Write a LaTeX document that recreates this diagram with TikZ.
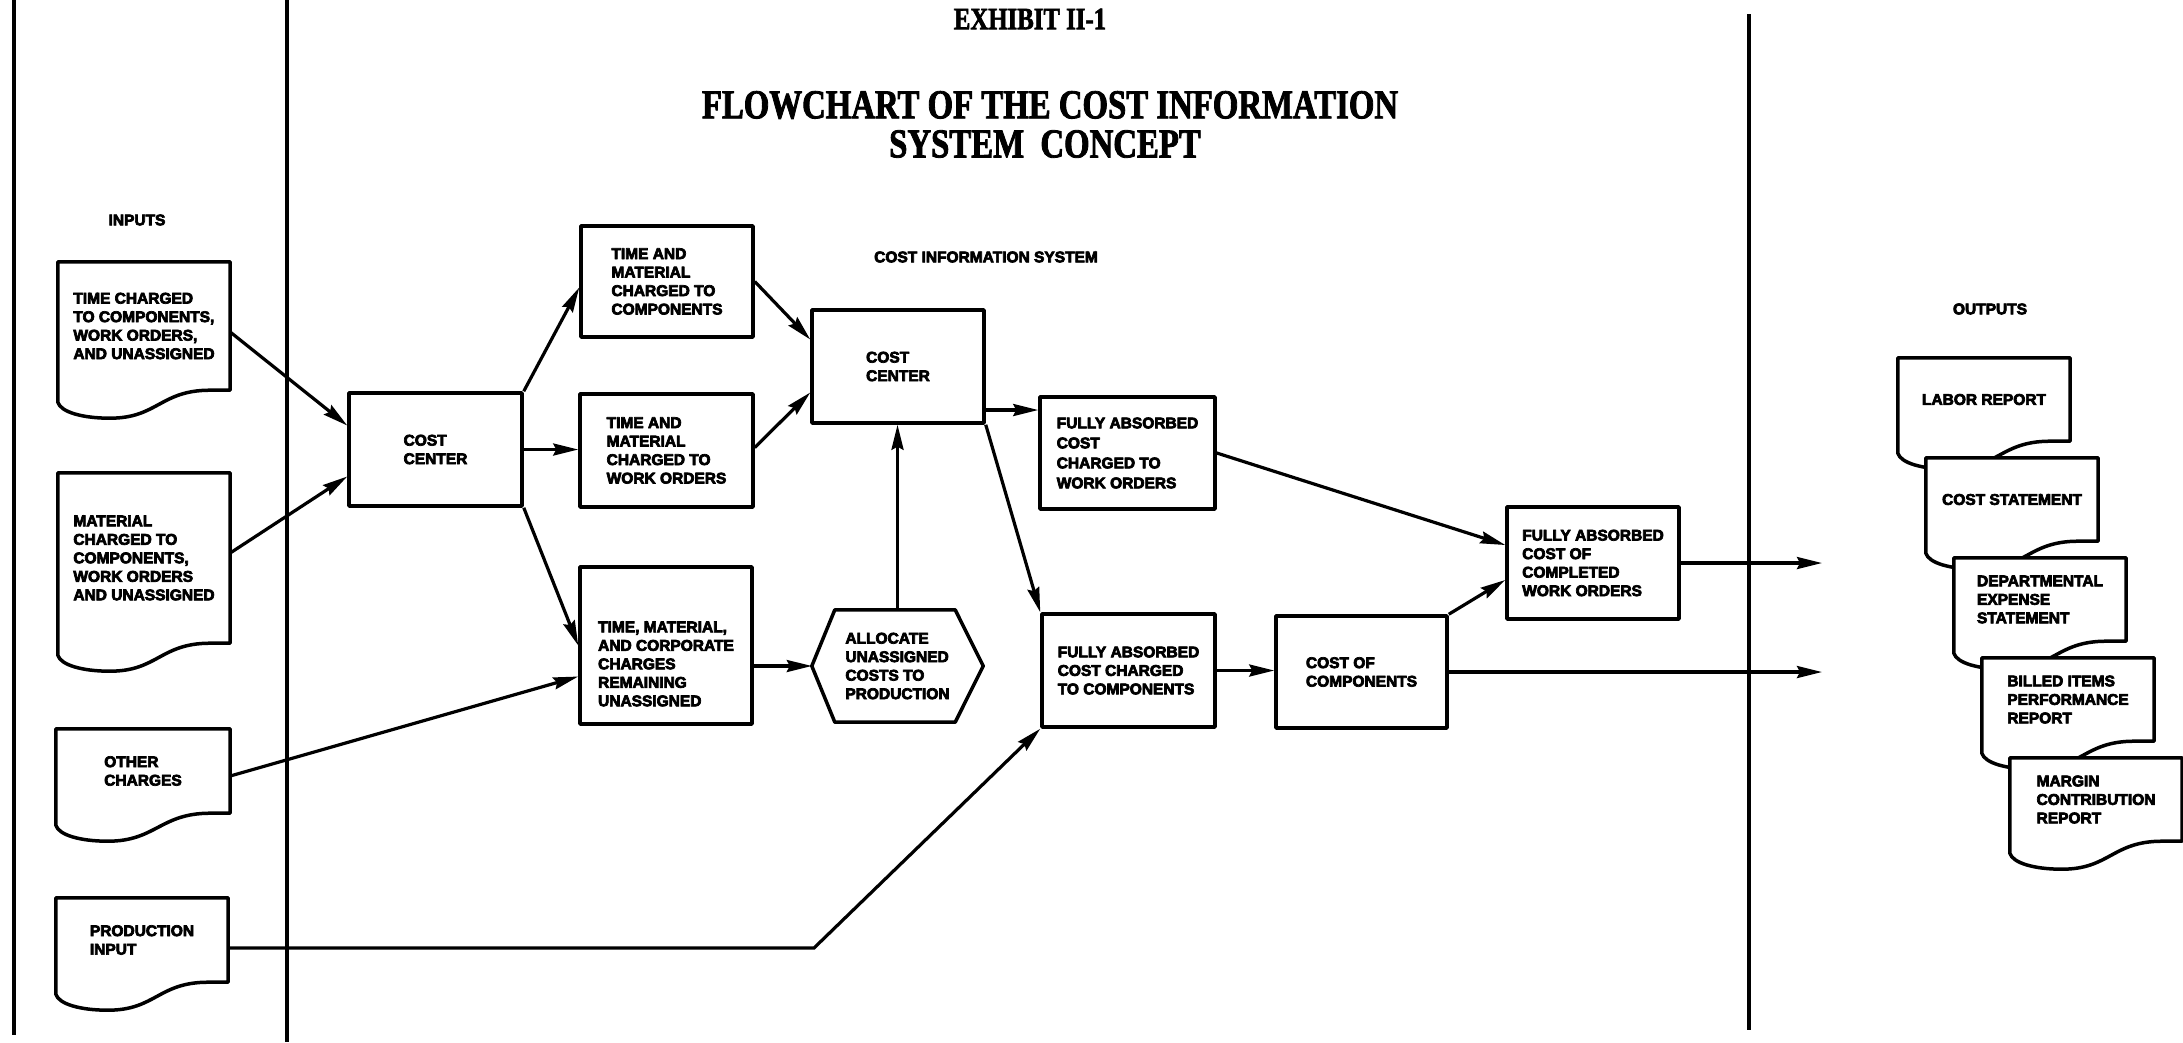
\documentclass[tikz,border=0pt]{standalone}
\usepackage{fontspec}
\newfontfamily\boxfont{Liberation Sans}[UprightFont={* Bold}, FakeBold=4.5]
\newfontfamily\titlefont{Liberation Serif}[UprightFont={* Bold}, FakeStretch=0.80, FakeBold=2]
\usetikzlibrary{arrows.meta,calc}
\pgfdeclarelayer{back}
\pgfdeclarelayer{bg}
\pgfsetlayers{back,bg,main}
\newcommand\drawdoc[1]{%
  \draw[boxline,fill=white] ($(#1.south west)+(0,12)$) -- (#1.north west) -- (#1.north east) -- (#1.south east)
    -- ($(#1.south east)+(-20,0)$)
    .. controls ($(#1.south east)+(-70,0)$) and ($(#1.south west)+(100,28)$) .. ($(#1.south west)+(52,28)$)
    .. controls ($(#1.south west)+(25,28)$) and ($(#1.south west)+(3,22)$) .. ($(#1.south west)+(0,12)$) -- cycle;}
\tikzset{
  boxline/.style={line width=3.5pt, line join=round},
  txt/.style={font=\boxfont\fontsize{15.5pt}{18.5pt}\selectfont, align=left, inner sep=0pt},
  procbox/.style={txt, draw, boxline, minimum width=172pt, minimum height=112pt},
  docnode/.style={txt, minimum width=172pt},
  lbl/.style={txt},
  flow/.style={line width=3.2pt, -{Stealth[length=25pt,width=12pt,inset=3pt]}},
  divider/.style={line width=4.5pt},
  ttl/.style={font=\titlefont\fontsize{41pt}{44pt}\selectfont, inner sep=0pt}
}
\begin{document}
\begin{tikzpicture}[x=1pt,y=-1pt]
\begin{pgfonlayer}{back}
\fill[white] (0,0) rectangle (2183,1042);
\end{pgfonlayer}
\useasboundingbox (0,0) rectangle (2183,1042);

% section dividers
\draw[divider] (14,0) -- (14,1035);
\draw[divider] (287,0) -- (287,1042);
\draw[divider] (1749,14) -- (1749,1030);

% titles
\node[ttl, font=\titlefont\fontsize{31pt}{33pt}\selectfont] (t0) at (1030,19) {EXHIBIT II-1};
\node[ttl] (t1) at (1050,105) {FLOWCHART OF THE COST INFORMATION};
\node[ttl] (t2) at (1045,144) {SYSTEM\ \ CONCEPT};

% section labels
\node[lbl] (linputs) at (137,220) {INPUTS};
\node[lbl] (lcis) at (986,257) {COST INFORMATION SYSTEM};
\node[lbl] (loutputs) at (1990,309) {OUTPUTS};

% input documents
\node[docnode, minimum height=128pt] (d1) at (144,326) {TIME CHARGED\\TO COMPONENTS,\\WORK ORDERS,\\AND UNASSIGNED};
\node[docnode, minimum height=170pt] (d2) at (144,558) {MATERIAL\\CHARGED TO\\COMPONENTS,\\WORK ORDERS\\AND UNASSIGNED};
\node[docnode, minimum width=174pt, minimum height=84pt] (d3) at (143,771) {OTHER\\CHARGES};
\node[docnode, minimum height=84pt] (d4) at (142,940) {PRODUCTION\\INPUT};

% process boxes
\node[procbox, minimum width=173pt, minimum height=113pt] (cc1) at (435.5,449.5) {COST\\CENTER};
\node[procbox, minimum height=111pt] (tmc) at (667,281.5) {TIME AND\\MATERIAL\\CHARGED TO\\COMPONENTS};
\node[procbox, minimum width=173pt, minimum height=113pt] (tmw) at (666.5,450.5) {TIME AND\\MATERIAL\\CHARGED TO\\WORK ORDERS};
\node[procbox, minimum height=157pt] (tmr) at (666,645.5) {};
\node[lbl] (tmrtext) at (666,664) {TIME, MATERIAL,\\AND CORPORATE\\CHARGES\\REMAINING\\UNASSIGNED};
\node[procbox, minimum height=113pt] (cc2) at (898,366.5) {COST\\CENTER};
\node[txt, minimum width=171pt, minimum height=112pt] (hex) at (897.5,666) {ALLOCATE\\UNASSIGNED\\COSTS TO\\PRODUCTION};
\node[procbox, minimum width=175pt, font=\boxfont\fontsize{15.5pt}{20pt}\selectfont] (fawo) at (1127.5,453) {FULLY ABSORBED\\COST\\CHARGED TO\\WORK ORDERS};
\node[procbox, minimum width=173pt, minimum height=113pt] (facomp) at (1128.5,670.5) {FULLY ABSORBED\\COST CHARGED\\TO COMPONENTS};
\node[procbox, minimum width=171pt] (coc) at (1361.5,672) {COST OF\\COMPONENTS};
\node[procbox] (faccwo) at (1593,563) {FULLY ABSORBED\\COST OF\\COMPLETED\\WORK ORDERS};

\draw[boxline] (hex.west) -- ($(hex.north west)+(23,0)$) -- ($(hex.north east)+(-28,0)$) -- (hex.east)
  -- ($(hex.south east)+(-28,0)$) -- ($(hex.south west)+(23,0)$) -- cycle;

% output documents
\node[docnode, minimum height=83pt] (o1) at (1984,399.5) {LABOR REPORT};
\node[docnode, minimum height=83pt] (o2) at (2012,499.5) {COST STATEMENT};
\node[docnode, minimum height=83pt] (o3) at (2040,599.5) {DEPARTMENTAL\\EXPENSE\\STATEMENT};
\node[docnode, minimum height=83pt] (o4) at (2068,699.5) {BILLED ITEMS\\PERFORMANCE\\REPORT};
\node[docnode, minimum height=83pt] (o5) at (2096,799.5) {MARGIN\\CONTRIBUTION\\REPORT};

\begin{pgfonlayer}{bg}
\drawdoc{d1}\drawdoc{d2}\drawdoc{d3}\drawdoc{d4}
\drawdoc{o1}\drawdoc{o2}\drawdoc{o3}\drawdoc{o4}\drawdoc{o5}
\end{pgfonlayer}

% helper coordinates
\coordinate (pbend) at (814,948);
\coordinate (fawoin) at ($(fawo.west)+(0,-43)$);
\coordinate (out1) at (1822,563);
\coordinate (out2) at (1822,672);

% connectors
\draw[flow] ($(d1.east)+(0,6)$) -- ($(cc1.west)+(0,-24)$);
\draw[flow] ($(d2.east)+(0,-5)$) -- ($(cc1.west)+(0,27)$);
\draw[flow] ($(d3.east)+(0,5)$) -- ($(tmr.west)+(0,31)$);
\draw[flow] ($(d4.east)+(0,8)$) -- (pbend) -- (facomp.south west);
\draw[flow] (cc1.north east) -- ($(tmc.west)+(0,6)$);
\draw[flow] (cc1.east) -- (cc1.east -| tmw.west);
\draw[flow] (cc1.south east) -- (tmr.west);
\draw[flow] (tmc.east) -- ($(cc2.west)+(0,-27)$);
\draw[flow] ($(tmw.east)+(0,-3)$) -- ($(cc2.west)+(0,26)$);
\draw[flow] (hex.west -| tmr.east) -- (hex.west);
\draw[flow] (hex.north) -- (hex.north |- cc2.south);
\draw[flow] (cc2.east |- fawoin) -- (fawoin);
\draw[flow] (cc2.south east) -- (facomp.north west);
\draw[flow] (fawo.east) -- ($(faccwo.west)+(0,-18)$);
\draw[flow] (facomp.east) -- (facomp.east -| coc.west);
\draw[flow] (coc.north east) -- ($(faccwo.west)+(0,17)$);
\draw[flow] (faccwo.east) -- (out1);
\draw[flow] (coc.east) -- (out2);
\end{tikzpicture}
\end{document}
